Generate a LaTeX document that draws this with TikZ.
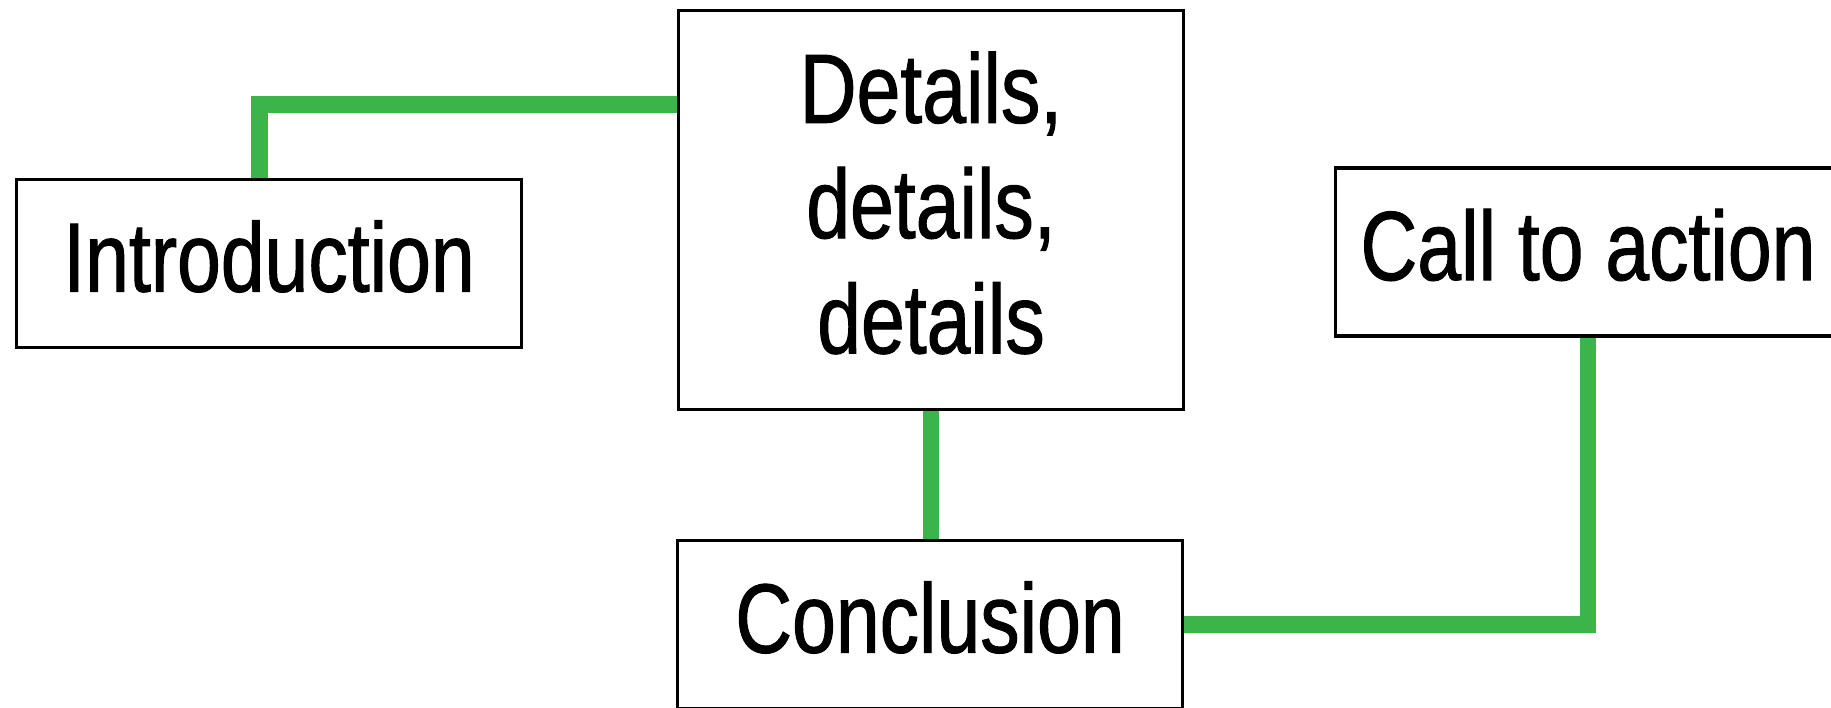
\documentclass[tikz,border=0pt]{standalone}
\usepackage{fontspec}
\newfontfamily\condfont{Liberation Sans}[FakeStretch=0.80, FakeBold=1]
\usetikzlibrary{backgrounds}
\definecolor{linkgreen}{RGB}{59,181,74}

\begin{document}
\begin{tikzpicture}[
    box/.style = {draw, line width = 1pt, fill = white, inner sep = 0pt,
      minimum width = 5.05cm, minimum height = 1.68cm, align = center,
      text depth = 4.3pt, font = \condfont\fontsize{28}{32.8}\selectfont},
    link/.style = {draw = linkgreen, line width = 4.6pt}
  ]

      \useasboundingbox (0, 0) rectangle (18.31, 7.08);

      \node[box] (intro) at (2.69, 4.445) {Introduction};
      \node[box, minimum height = 3.99cm] (details) at (9.31, 4.98) {Details,\\ details,\\ details};
      \node[box] (action) at (15.88, 4.56) {Call to action};
      \node[box] (concl) at (9.30, 0.835) {Conclusion};
      \coordinate (bend) at (2.595, 6.035);

      \begin{scope}[on background layer]
        \draw[link] (intro.north -| bend) -- (bend) -- (details.west |- bend);
        \draw[link] (details.south) -- (details.south |- concl.north);
        \draw[link] (concl.east) -| (action.south);
      \end{scope}

    \end{tikzpicture}
\end{document}
